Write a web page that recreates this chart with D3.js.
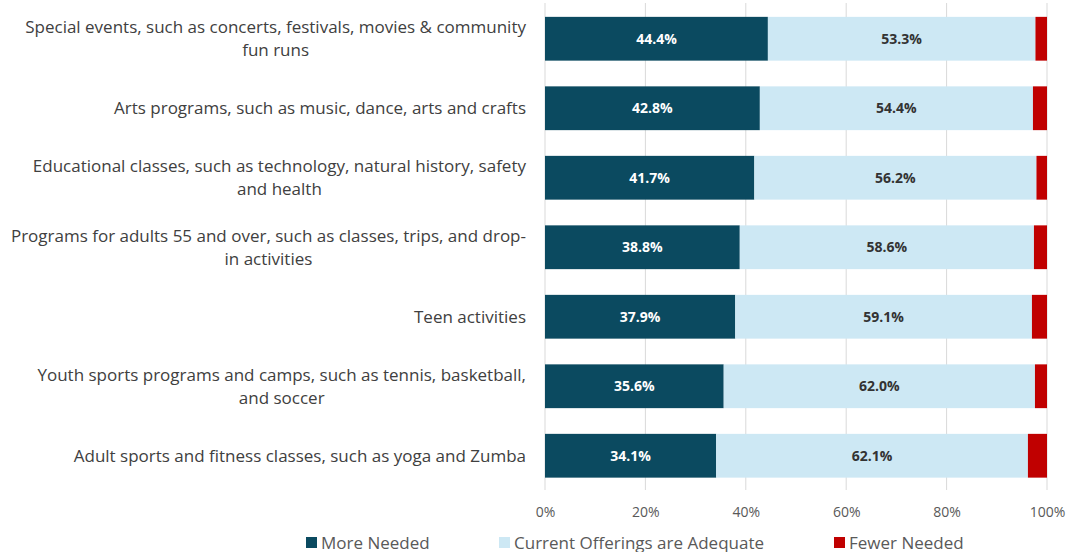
<!DOCTYPE html>
<html>
<head>
<meta charset="utf-8">
<script src="https://cdn.jsdelivr.net/npm/d3@7"></script>
<style>
  body { margin: 0; background: #fff; }
  svg { display: block; }
</style>
</head>
<body>
<svg id="chart" width="1067" height="552"></svg>
<script>
var categories = [
  ["Special events, such as concerts, festivals, movies & community", "fun runs"],
  ["Arts programs, such as music, dance, arts and crafts"],
  ["Educational classes, such as technology, natural history, safety", "and health"],
  ["Programs for adults 55 and over, such as classes, trips, and drop-", "in activities"],
  ["Teen activities"],
  ["Youth sports programs and camps, such as tennis, basketball,", "and soccer"],
  ["Adult sports and fitness classes, such as yoga and Zumba"]
];
var moreNeeded = [44.4, 42.8, 41.7, 38.8, 37.9, 35.6, 34.1];
var adequate = [53.3, 54.4, 56.2, 58.6, 59.1, 62.0, 62.1];
var fewerNeeded = [2.3, 2.8, 2.1, 2.6, 3.0, 2.4, 3.8];
var seriesNames = ["More Needed", "Current Offerings are Adequate", "Fewer Needed"];
var seriesColors = ["#0b4a60", "#cde8f4", "#c00000"];
var labelColors = ["#ffffff", "#333333", "#ffffff"];
var tickValues = [0, 20, 40, 60, 80, 100];

var font = "'Open Sans', sans-serif";
var svg = d3.select("#chart");

var x = d3.scaleLinear().domain([0, 100]).range([545, 1047]);
var y = d3.scaleBand().domain(d3.range(categories.length)).range([4, 490.5]).paddingInner(0.37).paddingOuter(0.185);

// gridlines
svg.append("g").selectAll("line")
  .data(tickValues)
  .enter().append("line")
  .attr("x1", function (d) { return x(d); })
  .attr("x2", function (d) { return x(d); })
  .attr("y1", 3)
  .attr("y2", 490)
  .attr("stroke", "#d9d9d9")
  .attr("stroke-width", 1);

var rows = categories.map(function (c, i) {
  return [moreNeeded[i], adequate[i], fewerNeeded[i]];
});

var stack = rows.map(function (vals) {
  var acc = 0;
  return vals.map(function (v) {
    var seg = { x0: acc, x1: acc + v, v: v };
    acc += v;
    return seg;
  });
});

var rowGroups = svg.append("g").selectAll("g")
  .data(stack)
  .enter().append("g");

rowGroups.each(function (segs, i) {
  var g = d3.select(this);
  segs.forEach(function (s, k) {
    g.append("rect")
      .attr("x", x(s.x0))
      .attr("y", y(i))
      .attr("width", x(s.x1) - x(s.x0))
      .attr("height", y.bandwidth())
      .attr("fill", seriesColors[k]);
    if (k < 2) {
      g.append("text")
        .attr("x", (x(s.x0) + x(s.x1)) / 2)
        .attr("y", y(i) + y.bandwidth() / 2 + 5)
        .attr("text-anchor", "middle")
        .attr("font-family", font)
        .attr("font-size", 14)
        .attr("font-weight", "bold")
        .attr("fill", labelColors[k])
        .text(s.v.toFixed(1) + "%");
    }
  });
});

// category labels
categories.forEach(function (lines, i) {
  var cy = y(i) + y.bandwidth() / 2;
  var t = svg.append("text")
    .attr("class", "cat")
    .attr("font-family", font)
    .attr("font-size", 17)
    .attr("fill", "#404040")
    .attr("text-anchor", lines.length > 1 ? "middle" : "end");
  lines.forEach(function (ln, j) {
    t.append("tspan")
      .attr("x", 526)
      .attr("y", cy + 6 + (j - (lines.length - 1) / 2) * 23)
      .text(ln);
  });
});

// center multi-line labels on their widest line, right-aligned at 526
svg.selectAll("text.cat").filter(function () { return this.childNodes.length > 1; })
  .each(function () {
    var t = d3.select(this);
    var w = 0;
    t.selectAll("tspan").each(function () { w = Math.max(w, this.getComputedTextLength()); });
    t.selectAll("tspan").attr("x", 526 - w / 2);
  });

// x axis tick labels
var axis = d3.axisBottom(x).tickValues(tickValues).tickSize(0).tickFormat(function (d) { return d + "%"; });
var ag = svg.append("g").attr("transform", "translate(0,504)").call(axis);
ag.select(".domain").remove();
ag.selectAll("text")
  .attr("font-family", font)
  .attr("font-size", 14)
  .attr("fill", "#595959");

// legend
var legendX = [306, 499, 834];
var lg = svg.append("g").selectAll("g")
  .data(seriesNames)
  .enter().append("g")
  .attr("transform", function (d, i) { return "translate(" + legendX[i] + ",537)"; });
lg.append("rect")
  .attr("width", 11).attr("height", 11)
  .attr("fill", function (d, i) { return seriesColors[i]; });
lg.append("text")
  .attr("x", 15)
  .attr("y", 11.5)
  .attr("font-family", font)
  .attr("font-size", 17)
  .attr("fill", "#595959")
  .text(function (d) { return d; });
</script>
</body>
</html>
